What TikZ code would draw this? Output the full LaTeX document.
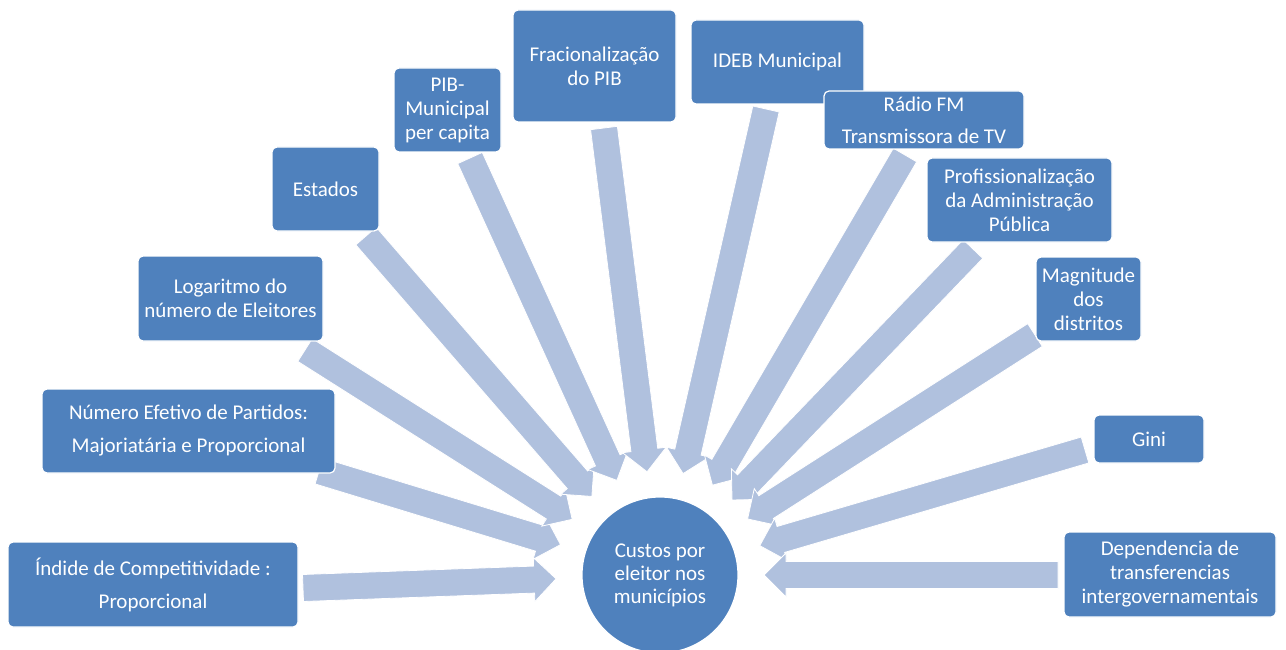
\documentclass[tikz,border=0pt]{standalone}
\usepackage{fontspec}
\setmainfont{Carlito}
\usetikzlibrary{calc,backgrounds}
\definecolor{boxblue}{RGB}{79,129,189}
\definecolor{arrowblue}{RGB}{176,193,222}
\tikzset{
  box/.style={rectangle, rounded corners=5pt, fill=boxblue, draw=white, line width=1.2pt,
    text=white, align=center, inner sep=0pt, font=\fontsize{21}{24}\selectfont},
  hub/.style={circle, fill=boxblue, draw=white, line width=1.2pt, text=white, align=center,
    inner sep=0pt, minimum size=156pt, font=\fontsize{21}{23}\selectfont},
  blockarrow/.style={fill=arrowblue, draw=white, line width=0.8pt, line join=miter}
}
\newcommand\blockarr[2]{%
  \coordinate (ab) at ($(#2)!22pt!(#1)$);
  \draw[blockarrow] ($(#1)!13.5pt!90:(#2)$) -- ($(ab)!13.5pt!90:(#2)$) -- ($(ab)!22pt!90:(#2)$)
    -- (#2) -- ($(ab)!22pt!-90:(#2)$) -- ($(ab)!13.5pt!-90:(#2)$) -- ($(#1)!13.5pt!-90:(#2)$) -- cycle;
}
\begin{document}
\begin{tikzpicture}[x=1pt,y=-1pt]
\useasboundingbox (0,0) rectangle (1286,650);
\clip (0,0) rectangle (1286,650);

% hub
\node[hub] (c) at (660,575) {Custos por\\eleitor nos\\municípios};

% boxes
\node[box, minimum width=290pt, minimum height=85pt] (b1) at (153,584.5) {Índide de Competitividade :\\[9pt]Proporcional};
\node[box, minimum width=293pt, minimum height=84pt] (b2) at (188.5,431) {Número Efetivo de Partidos:\\[9pt]Majoriatária e Proporcional};
\node[box, minimum width=185pt, minimum height=85pt] (b3) at (230.5,298.5) {Logaritmo do\\número de Eleitores};
\node[box, minimum width=107pt, minimum height=84pt] (b4) at (325.5,189) {Estados};
\node[box, minimum width=107pt, minimum height=84pt] (b5) at (447.5,110) {PIB-\\Municipal\\per capita};
\node[box, minimum width=163pt, minimum height=112pt] (b6) at (594.5,66) {Fracionalização\\do PIB};
\node[box, minimum width=173pt, minimum height=84pt] (b7) at (777.5,62) {IDEB Municipal};
\node[box, minimum width=200pt, minimum height=58pt] (b8) at (924,120) {Rádio FM\\[8pt]Transmissora de TV};
\node[box, minimum width=185pt, minimum height=84pt] (b9) at (1019.5,200) {Profissionalização\\da Administração\\Pública};
\node[box, minimum width=105pt, minimum height=84pt] (b10) at (1088.5,299) {Magnitude\\dos\\distritos};
\node[box, minimum width=110pt, minimum height=48pt] (b11) at (1149,439) {Gini};
\node[box, minimum width=212pt, minimum height=85pt] (b12) at (1170,574.5) {Dependencia de\\transferencias\\intergovernamentais};

% arrow tails
\coordinate (t1) at (303,588);
\coordinate (t2) at (319,471);
\coordinate (t3) at (305,350);
\coordinate (t4) at (366,236);
\coordinate (t5) at (470,158);
\coordinate (t6) at (604,128);
\coordinate (t7) at (766,109);
\coordinate (t8) at (905,155);
\coordinate (t9) at (973,249);
\coordinate (t10) at (1035,335);
\coordinate (t11) at (1085,450);
\coordinate (t12) at (1058,575);

\begin{scope}[on background layer]
\foreach \i in {1,...,12} {
  \coordinate (p\i) at ($(c.center)!104pt!(t\i)$);
  \blockarr{t\i}{p\i}
}
\end{scope}
\end{tikzpicture}
\end{document}
